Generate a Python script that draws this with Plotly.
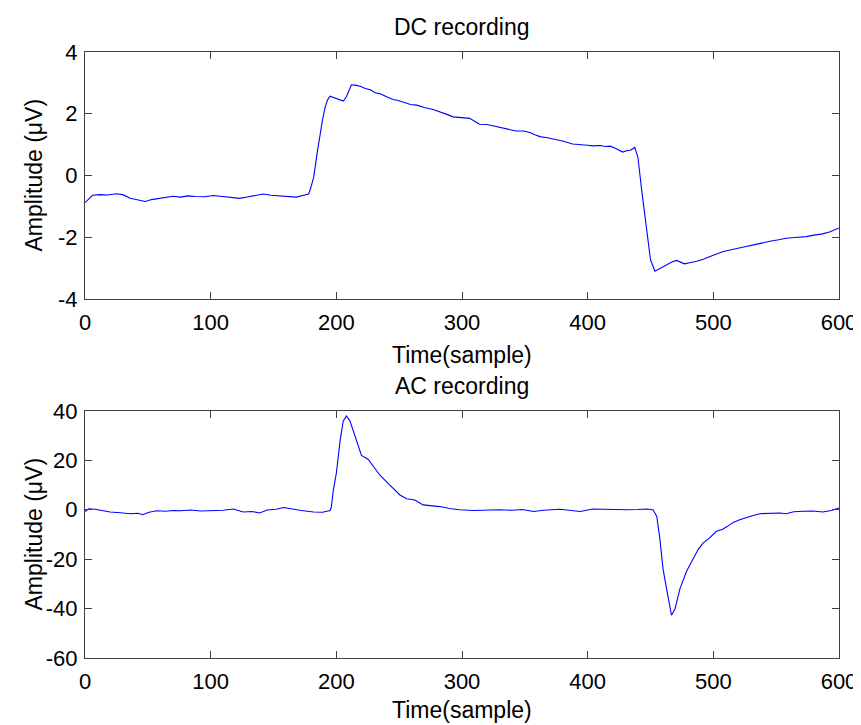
import plotly.graph_objects as go

# ---- data ----
dc_t = [0, 3, 6, 12, 18, 25, 30, 36, 42, 48, 53, 58, 64, 70, 76, 82, 88, 95, 102, 108,
        115, 123, 130, 136, 142, 148, 155, 162, 168, 174, 178, 180, 182, 185, 187, 189, 191,
        193, 195, 198, 202, 205.5, 208, 212, 216, 219, 223, 227, 231, 235, 240, 245, 250,
        255, 259, 264, 270, 277, 283, 288, 293, 300, 306, 310, 314, 320, 326, 330, 336,
        343, 349, 354, 358, 362, 368, 375, 380, 388, 395, 400, 404, 410, 414, 418, 422,
        428, 431, 434, 437.5, 440, 443, 445, 447, 450, 453.5, 458, 462.7, 467, 470.7, 474,
        477, 482, 487, 492, 497, 502, 508, 514, 521, 526, 533, 540, 546, 552, 558, 565,
        574, 580, 587, 593, 599, 600]
dc_v = [-0.88, -0.75, -0.64, -0.62, -0.63, -0.59, -0.62, -0.74, -0.78, -0.84, -0.78, -0.75,
        -0.72, -0.67, -0.70, -0.66, -0.68, -0.69, -0.65, -0.67, -0.70, -0.74, -0.69, -0.64,
        -0.60, -0.64, -0.66, -0.68, -0.70, -0.64, -0.60, -0.35, -0.05, 0.80, 1.34, 1.80,
        2.20, 2.45, 2.57, 2.52, 2.45, 2.41, 2.55, 2.94, 2.92, 2.89, 2.82, 2.78, 2.68, 2.65,
        2.55, 2.46, 2.42, 2.36, 2.30, 2.28, 2.20, 2.14, 2.06, 1.98, 1.90, 1.88, 1.85, 1.76,
        1.66, 1.65, 1.60, 1.57, 1.50, 1.44, 1.44, 1.39, 1.32, 1.26, 1.22, 1.16, 1.12, 1.02,
        1.01, 0.98, 0.96, 0.97, 0.94, 0.95, 0.88, 0.76, 0.80, 0.82, 0.91, 0.59, -0.48,
        -1.10, -1.77, -2.73, -3.10, -3.00, -2.89, -2.80, -2.75, -2.82, -2.86, -2.82, -2.78,
        -2.71, -2.62, -2.55, -2.46, -2.40, -2.35, -2.30, -2.24, -2.17, -2.12, -2.08, -2.03,
        -2.01, -1.98, -1.93, -1.89, -1.82, -1.71, -1.70]

ac_t = [0, 3, 8, 14, 20, 28, 36, 42, 46, 51, 57, 64, 70, 76, 84, 92, 102, 110, 118, 126,
        133, 139, 145, 152, 158, 165, 171, 177, 182, 189, 192, 195, 196, 197.6, 200, 203,
        205.5, 208, 210.8, 214.8, 217.5, 220, 225.4, 230, 234.7, 242.6, 250.6, 256, 262.5,
        269, 275, 282.4, 290, 298, 309, 320, 330, 340, 348, 357, 365, 378, 386, 394, 404,
        415, 425, 431, 440, 447, 452, 455, 457.5, 460, 462.8, 465, 466.7, 469.4, 473.4,
        478.7, 484, 488, 492, 497, 502.5, 507, 511, 515.8, 521, 526.4, 531, 537, 545, 553,
        558, 564, 572, 579, 587, 594, 599, 600]
ac_v = [-0.7, 0.4, 0.2, -0.4, -0.9, -1.2, -1.6, -1.4, -2.0, -1.0, -0.4, -0.6, -0.3, -0.4,
        -0.1, -0.5, -0.3, -0.2, 0.3, -0.9, -0.7, -1.3, -0.1, 0.2, 0.9, 0.2, -0.2, -0.6, -0.9,
        -1.0, -0.8, -0.3, 1.0, 8.0, 14.8, 28.0, 36.0, 38.0, 36.0, 30.0, 25.0, 22.0, 20.4,
        17.0, 14.0, 10.0, 6.0, 4.5, 4.0, 2.0, 1.8, 1.3, 0.5, 0.0, -0.3, 0.0, 0.0, -0.2, 0.1,
        -0.7, -0.2, 0.2, -0.2, -0.7, 0.3, 0.1, 0.2, 0.0, 0.1, 0.3, 0.0, -2.7, -12.0, -24.0,
        -32.0, -38.0, -42.7, -40.3, -32.0, -24.9, -19.5, -16.0, -13.4, -11.4, -8.7, -8.0,
        -6.8, -5.1, -4.0, -3.0, -2.4, -1.6, -1.3, -1.3, -1.6, -0.8, -0.6, -0.5, -0.9, -0.3,
        0.6, 0.6]

x_ticks = [0, 100, 200, 300, 400, 500, 600]
x_tick_text = ["0", "100", "200", "300", "400", "500", "600"]
dc_ticks = [-4, -2, 0, 2, 4]
dc_tick_text = ["-4", "-2", "0", "2", "4"]
ac_ticks = [-60, -40, -20, 0, 20, 40]
ac_tick_text = ["-60", "-40", "-20", "0", "20", "40"]

titles = ["DC recording", "AC recording"]
x_label = "Time(sample)"
y_label = "Amplitude (μV)"

FONT = "Arial, Liberation Sans, Helvetica, sans-serif"
AX_COLOR = "#404040"

fig = go.Figure()
fig.add_trace(go.Scatter(x=dc_t, y=dc_v, mode="lines", line=dict(color="#0000ff", width=1.1),
                         xaxis="x", yaxis="y", showlegend=False))
fig.add_trace(go.Scatter(x=ac_t, y=ac_v, mode="lines", line=dict(color="#0000ff", width=1.1),
                         xaxis="x2", yaxis="y2", showlegend=False))

common_axis = dict(showgrid=False, zeroline=False, showline=True, linecolor=AX_COLOR,
                   linewidth=1, mirror="ticks", ticks="inside", ticklen=7, tickwidth=1,
                   tickcolor=AX_COLOR, tickfont=dict(family=FONT, size=22, color="black"))

top_dom = [0.5924, 1.0]
bot_dom = [0.0, 0.4076]

# the page body has an 8px default margin, so the figure is sized/offset to compensate
fig.update_layout(
    width=853, height=717,
    margin=dict(l=77, r=22, t=44, b=67, autoexpand=False),
    paper_bgcolor="white", plot_bgcolor="white",
    font=dict(family=FONT, color="black"),
    xaxis=dict(domain=[0, 1], range=[0, 600], tickvals=x_ticks, ticktext=x_tick_text,
               anchor="y", ticklabelstandoff=4, **common_axis),
    yaxis=dict(domain=top_dom, range=[-4, 4], tickvals=dc_ticks, ticktext=dc_tick_text,
               anchor="x", ticklabelstandoff=2, **common_axis),
    xaxis2=dict(domain=[0, 1], range=[0, 600], tickvals=x_ticks, ticktext=x_tick_text,
                anchor="y2", ticklabelstandoff=4, **common_axis),
    yaxis2=dict(domain=bot_dom, range=[-60, 40], tickvals=ac_ticks, ticktext=ac_tick_text,
                anchor="x2", ticklabelstandoff=2, **common_axis),
)

ann_font = dict(family=FONT, size=23, color="black")
for dom, title, xl_shift in [(top_dom, titles[0], -41), (bot_dom, titles[1], -37)]:
    fig.add_annotation(text=title, xref="paper", yref="paper", x=0.5, y=dom[1],
                       xanchor="center", yanchor="bottom", yshift=10, showarrow=False,
                       font=ann_font)
    fig.add_annotation(text=x_label, xref="paper", yref="paper", x=0.5, y=dom[0],
                       xanchor="center", yanchor="top", yshift=xl_shift, showarrow=False,
                       font=ann_font)
    fig.add_annotation(text=y_label, xref="paper", yref="paper", x=0,
                       y=(dom[0] + dom[1]) / 2, xanchor="center", yanchor="middle",
                       xshift=-51, textangle=-90, showarrow=False, font=ann_font)

fig.write_html("out.html")
